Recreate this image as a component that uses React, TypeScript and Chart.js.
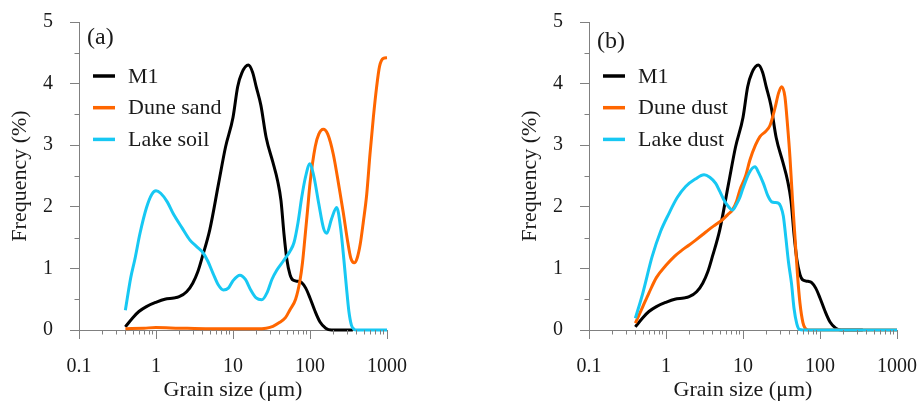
import React, { useEffect, useRef } from "react";
import { Chart, registerables } from "chart.js";

Chart.register(...registerables);

// ---------- data ----------
const X_TICKS = [0.1, 1, 10, 100, 1000];
const Y_TICKS = [0, 1, 2, 3, 4, 5];
const Y_MINOR = [0.5, 1.5, 2.5, 3.5, 4.5];

const M1_SIZE = [0.4, 0.5, 0.6, 0.75, 1.0, 1.3, 1.7, 2.0, 2.5, 3.0, 3.5, 4.0, 5.0, 6.5, 8.0, 10, 11.5, 13, 15.8, 18, 20, 23, 27, 33, 38, 42, 46, 50, 55, 60, 70, 78, 88, 100, 115, 135, 160, 190, 360];
const M1_FREQ = [0.05, 0.2, 0.3, 0.38, 0.45, 0.5, 0.52, 0.54, 0.62, 0.76, 0.95, 1.19, 1.63, 2.38, 2.97, 3.45, 3.95, 4.17, 4.3, 4.18, 3.95, 3.65, 3.12, 2.72, 2.42, 2.1, 1.55, 1.15, 0.9, 0.81, 0.79, 0.77, 0.68, 0.52, 0.32, 0.13, 0.03, 0.0, 0.0];

const DUNE_SAND_SIZE = [0.4, 0.7, 1.0, 2.0, 5.0, 10, 20, 27, 33, 40, 48, 55, 65, 74, 80, 86, 93, 100, 117, 130, 149, 170, 201, 240, 271, 310, 340, 375, 410, 450, 492, 545, 601, 665, 734, 800, 896, 1000];
const DUNE_SAND_FREQ = [0.02, 0.03, 0.04, 0.03, 0.02, 0.02, 0.02, 0.03, 0.06, 0.12, 0.2, 0.33, 0.5, 0.8, 1.1, 1.5, 1.95, 2.38, 2.98, 3.18, 3.26, 3.18, 2.85, 2.3, 1.9, 1.42, 1.16, 1.09, 1.17, 1.4, 1.75, 2.2, 2.85, 3.45, 3.95, 4.28, 4.41, 4.42];

const LAKE_SOIL_SIZE = [0.4, 0.47, 0.53, 0.62, 0.75, 0.88, 1.0, 1.15, 1.4, 1.67, 2.2, 2.76, 3.4, 4.1, 4.7, 5.5, 6.4, 7.5, 8.7, 10, 12.3, 14.5, 17, 20, 23.6, 28, 32, 37, 45, 55, 62, 70, 78, 88, 100, 112, 130, 150, 165, 190, 222, 250, 275, 297, 320, 345, 375, 400, 1000];
const LAKE_SOIL_FREQ = [0.32, 0.85, 1.14, 1.57, 1.98, 2.2, 2.26, 2.22, 2.08, 1.89, 1.65, 1.46, 1.35, 1.25, 1.12, 0.92, 0.74, 0.65, 0.68, 0.8, 0.89, 0.82, 0.65, 0.52, 0.49, 0.62, 0.82, 0.97, 1.12, 1.28, 1.42, 1.75, 2.15, 2.5, 2.7, 2.5, 2.05, 1.65, 1.57, 1.8, 1.99, 1.65, 1.15, 0.7, 0.3, 0.08, 0.01, 0, 0];

const DUNE_DUST_SIZE = [0.4, 0.5, 0.6, 0.75, 1.0, 1.3, 1.63, 2.0, 2.43, 3.0, 3.6, 4.4, 5.4, 6.3, 7.3, 8.3, 9.1, 10.8, 12.3, 14.5, 16.6, 19.5, 22.4, 26, 29, 31.8, 35, 38, 40.7, 44, 47.3, 51, 55, 60, 64, 70, 1000];
const DUNE_DUST_FREQ = [0.11, 0.38, 0.6, 0.85, 1.05, 1.2, 1.3, 1.38, 1.46, 1.55, 1.63, 1.71, 1.79, 1.87, 1.95, 2.1, 2.27, 2.5, 2.76, 3.0, 3.14, 3.22, 3.32, 3.6, 3.85, 3.95, 3.79, 3.3, 2.81, 2.1, 1.51, 0.9, 0.43, 0.12, 0.03, 0, 0];

const LAKE_DUST_SIZE = [0.4, 0.5, 0.66, 0.85, 1.09, 1.4, 1.8, 2.4, 3.12, 3.7, 4.42, 5.0, 5.66, 6.5, 7.3, 8.3, 9.1, 10, 12, 14.3, 16, 18.4, 21, 23.6, 26, 28.8, 31, 33.4, 36, 39, 42.6, 46, 50, 54, 60, 1000];
const LAKE_DUST_FREQ = [0.19, 0.6, 1.19, 1.6, 1.89, 2.15, 2.33, 2.45, 2.52, 2.48, 2.38, 2.25, 2.11, 2.0, 1.95, 2.05, 2.15, 2.3, 2.55, 2.65, 2.55, 2.38, 2.18, 2.08, 2.07, 2.06, 2.0, 1.85, 1.5, 1.1, 0.76, 0.35, 0.1, 0.01, 0, 0];

// ---------- styles ----------
const FONT_FAMILY = "'Liberation Serif', 'Times New Roman', serif";
const AXIS_COLOR = "#808080";
const TEXT_COLOR = "#1a1a1a";
const BLACK = "#000000";
const ORANGE = "#FF6600";
const CYAN = "#17C8F3";

const pts = (xs: number[], ys: number[]) => xs.map((x, i) => ({ x, y: ys[i] }));

const decorPlugin = {
  id: "decor",
  afterDraw(chart: any, _args: any, opts: any) {
    const { ctx, chartArea, scales } = chart;
    const xs = scales.x;
    const ys = scales.y;
    ctx.save();
    ctx.strokeStyle = AXIS_COLOR;
    ctx.lineWidth = 1;
    // minor x ticks
    for (let e = -1; e < 3; e++) {
      for (let k = 2; k <= 9; k++) {
        const v = k * Math.pow(10, e);
        const px = Math.round(xs.getPixelForValue(v)) + 0.5;
        ctx.beginPath();
        ctx.moveTo(px, chartArea.bottom);
        ctx.lineTo(px, chartArea.bottom + 4.5);
        ctx.stroke();
      }
    }
    // minor y ticks
    Y_MINOR.forEach((v) => {
      const py = Math.round(ys.getPixelForValue(v)) + 0.5;
      ctx.beginPath();
      ctx.moveTo(chartArea.left - 4.5, py);
      ctx.lineTo(chartArea.left, py);
      ctx.stroke();
    });
    // legend
    const ds = chart.data.datasets;
    ctx.font = `22px ${FONT_FAMILY}`;
    ctx.textBaseline = "middle";
    ctx.textAlign = "left";
    opts.legendOrder.forEach((idx: number, row: number) => {
      const d = ds[idx];
      const y = chartArea.top + opts.legendTop + row * opts.legendGap;
      ctx.strokeStyle = d.borderColor;
      ctx.lineWidth = 3.5;
      ctx.beginPath();
      ctx.moveTo(chartArea.left + 14, y);
      ctx.lineTo(chartArea.left + 36, y);
      ctx.stroke();
      ctx.fillStyle = TEXT_COLOR;
      ctx.fillText(d.label, chartArea.left + 49, y + 1);
    });
    // panel label
    ctx.font = `24px ${FONT_FAMILY}`;
    ctx.fillStyle = TEXT_COLOR;
    ctx.fillText(opts.panel, chartArea.left + opts.panelDx, chartArea.top + opts.panelDy);
    ctx.restore();
  },
};

function lineDs(label: string, color: string, xs: number[], ys: number[], order: number) {
  return {
    label,
    data: pts(xs, ys),
    borderColor: color,
    backgroundColor: color,
    borderWidth: 3,
    pointRadius: 0,
    cubicInterpolationMode: "monotone" as const,
    clip: false as any,
    order,
  };
}

function makeConfig(datasets: any[], padLeft: number, padRight: number, panel: string, panelDy: number) {
  const tickFont = { family: FONT_FAMILY, size: 20 };
  const titleFont = { family: FONT_FAMILY, size: 22 };
  return {
    type: "line" as const,
    data: { datasets },
    plugins: [decorPlugin],
    options: {
      responsive: false,
      animation: false as const,
      devicePixelRatio: 1,
      layout: { padding: { left: padLeft, right: padRight, top: 22, bottom: 0 } },
      plugins: {
        legend: { display: false },
        tooltip: { enabled: false },
        decor: { legendOrder: [0, 1, 2], legendTop: 54, legendGap: 31.7, panel, panelDx: 8, panelDy: panelDy },
      },
      scales: {
        x: {
          type: "logarithmic" as const,
          min: 0.1,
          max: 1000,
          afterBuildTicks: (scale: any) => {
            scale.ticks = X_TICKS.map((v) => ({ value: v }));
          },
          afterFit: (scale: any) => {
            scale.height = 73;
            scale.paddingLeft = 0;
            scale.paddingRight = 0;
          },
          ticks: {
            autoSkip: false,
            maxRotation: 0,
            padding: 16,
            color: TEXT_COLOR,
            font: tickFont,
            callback: (v: any) => String(v),
          },
          grid: { display: true, drawOnChartArea: false, drawTicks: true, tickLength: 9, color: AXIS_COLOR, tickColor: AXIS_COLOR, lineWidth: 1 },
          border: { display: true, color: AXIS_COLOR, width: 1 },
          title: { display: true, text: "Grain size (μm)", color: TEXT_COLOR, font: titleFont, padding: { top: 0, bottom: 0 } },
        },
        y: {
          type: "linear" as const,
          min: 0,
          max: 5,
          afterBuildTicks: (scale: any) => {
            scale.ticks = Y_TICKS.map((v) => ({ value: v }));
          },
          afterFit: (scale: any) => {
            scale.width = 79;
            scale.paddingTop = 0;
            scale.paddingBottom = 0;
          },
          ticks: { padding: 17, color: TEXT_COLOR, font: tickFont },
          grid: { display: true, drawOnChartArea: false, drawTicks: true, tickLength: 9, color: AXIS_COLOR, tickColor: AXIS_COLOR, lineWidth: 1 },
          border: { display: true, color: AXIS_COLOR, width: 1 },
          title: { display: true, text: "Frequency (%)", color: TEXT_COLOR, font: titleFont, padding: { top: 7, bottom: 0 } },
        },
      },
    },
  };
}

export default function App() {
  const leftRef = useRef<HTMLCanvasElement>(null);
  const rightRef = useRef<HTMLCanvasElement>(null);

  useEffect(() => {
    const a = new Chart(
      leftRef.current as HTMLCanvasElement,
      makeConfig(
        [
          lineDs("M1", BLACK, M1_SIZE, M1_FREQ, 3),
          lineDs("Dune sand", ORANGE, DUNE_SAND_SIZE, DUNE_SAND_FREQ, 2),
          lineDs("Lake soil", CYAN, LAKE_SOIL_SIZE, LAKE_SOIL_FREQ, 1),
        ],
        0,
        73,
        "(a)",
        16
      ) as any
    );
    const b = new Chart(
      rightRef.current as HTMLCanvasElement,
      makeConfig(
        [
          lineDs("M1", BLACK, M1_SIZE, M1_FREQ, 3),
          lineDs("Dune dust", ORANGE, DUNE_DUST_SIZE, DUNE_DUST_FREQ, 2),
          lineDs("Lake dust", CYAN, LAKE_DUST_SIZE, LAKE_DUST_FREQ, 1),
        ],
        50,
        24,
        "(b)",
        20
      ) as any
    );
    return () => {
      a.destroy();
      b.destroy();
    };
  }, []);

  return (
    <div style={{ position: "absolute", left: 0, top: 0, width: 921, height: 403, background: "#fff", display: "flex" }}>
      <canvas ref={leftRef} width={460} height={403} style={{ display: "block" }} />
      <canvas ref={rightRef} width={461} height={403} style={{ display: "block" }} />
    </div>
  );
}
